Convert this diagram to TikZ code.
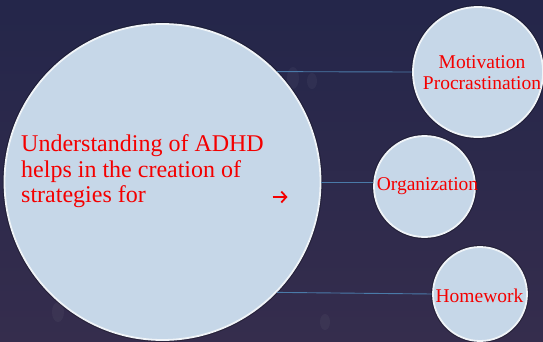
\documentclass[tikz,border=0pt]{standalone}
\usepackage{fontspec}
\setmainfont{Liberation Serif}
\usepackage{xcolor}
\usetikzlibrary{positioning, arrows.meta}

\definecolor{nightsky}{HTML}{24264A}
\definecolor{nightlow}{HTML}{352D4D}
\definecolor{bubble}{HTML}{C6D7E8}
\definecolor{rim}{HTML}{F0F4F8}
\definecolor{wire}{HTML}{4A7AA8}
\definecolor{ink}{HTML}{F40000}

\begin{document}
\begin{tikzpicture}[x=1pt, y=-1pt,
    bubble/.style={circle, fill=bubble, draw=rim, line width=1.8pt, inner sep=0pt,
        preaction={draw=black, draw opacity=0.25, line width=4pt}},
    label/.style={text=ink, font=\fontsize{19.5}{21}\selectfont, align=center, inner sep=0pt},
    wire/.style={draw=wire, line width=0.9pt},
    speck/.style={fill=white, fill opacity=0.04}]
    % backdrop
    \shade[top color=nightsky, bottom color=nightlow] (0,0) rectangle (543,341);
    \useasboundingbox (0,0) rectangle (543,341);
    \fill[speck] (293,78) ellipse (6 and 11);
    \fill[speck] (312,81) ellipse (5 and 8);
    \fill[speck] (325,322) ellipse (5 and 8);
    \fill[speck] (58,312) ellipse (6 and 10);

    \node[bubble, minimum size=316pt] (big)   at (162.5,182) {};
    \node[bubble, minimum size=130pt] (motiv) at (478,72)    {};
    \node[bubble, minimum size=101pt] (organ) at (424.5,186.5) {};
    \node[bubble, minimum size=94pt]  (homew) at (480,294)   {};

    \draw[wire] (big.44.1)  -- (motiv.west);
    \draw[wire] (big.east)  -- (big.east -| organ.west);
    \draw[wire] (big.-44.6) -- (homew.west);

    % base of a multi-line node sits on its last line
    \node[text=ink, font=\fontsize{24}{25.4}\selectfont, align=left, inner sep=0pt,
          anchor=base west] (lead) at (21,202.7)
          {Understanding of ADHD\\helps in the creation of\\strategies for};
    \coordinate (arrow) at (280,197);
    \draw[ink, line width=1.8pt, -{Straight Barb[length=5pt, width=11pt]}]
        ([xshift=-7.5pt]arrow) -- ([xshift=7.5pt]arrow);

    \node[label, anchor=base] (tmotiv) at (482,89) {Motivation\\Procrastination};
    \node[label, anchor=base] (torgan) at (427.5,190) {Organization};
    \node[label, anchor=base] (thomew) at (479.5,302) {Homework};
\end{tikzpicture}
\end{document}
